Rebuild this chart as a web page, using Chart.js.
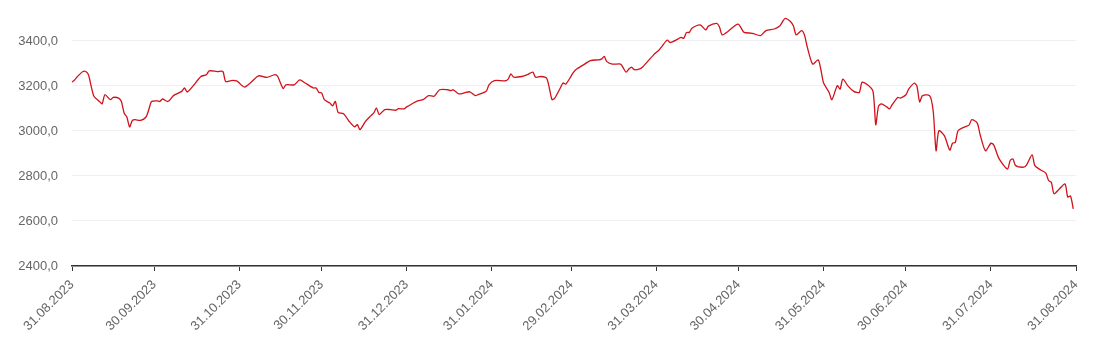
<!DOCTYPE html>
<html>
<head>
<meta charset="utf-8">
<script src="https://cdn.jsdelivr.net/npm/chart.js@4"></script>
<style>
  html, body { margin: 0; padding: 0; background: #fff; }
  #wrap { width: 1100px; height: 353px; }
</style>
</head>
<body>
<div id="wrap"><canvas id="myChart"></canvas></div>
<script>
// days since 31.08.2023
let days = [0,1,2,4,5,6,7,8,10,11,12,14,15,17,18,19,20,21,22,23,25,27,28,29,31,32,33,35,37,40,41,42,44,47,49,50,53,55,56,58,60,
  61,62,63,65,68,71,74,75,76,77,78,81,83,85,88,89,90,91,92,94,95,96,97,99,101,103,104,105,107,109,110,111,112,114,116,118,119,121,122,
  124,126,128,130,132,134,137,138,139,141,143,145,147,148,151,152,154,158,159,160,161,164,166,168,169,171,173,174,175,176,178,179,180,182,183,
  184,187,189,192,193,194,195,197,200,201,202,203,204,205,207,208,212,214,215,217,218,221,222,223,224,225,226,229,231,232,235,236,237,239,242,243,244,
  245,248,251,253,256,258,259,260,262,263,264,266,267,268,270,272,273,274,276,277,279,280,281,283,285,287,288,290,292,293,294,295,297,298,299,301,302,304,305,
  307,308,309,310,312,313,314,315,316,318,320,321,322,323,325,327,328,330,331,333,335,336,338,341,342,343,344,347,348,350,351,353,355,356,357,358,360,362,363,364,365]

let values = [3217,3227,3242,3264,3264,3250,3198,3154,3131,3121,3161,3139,3149,3146,3131,3080,3062,3018,3047,3050,3047,3062,3095,3131,3134,3131,3142,3131,3157,3176,3191,3173,3198,3242,3250,3267,3264,3264,3220,3224,3223,
  3213,3201,3195,3213,3245,3238,3250,3242,3213,3188,3205,3205,3227,3213,3191,3191,3171,3169,3139,3124,3112,3131,3083,3077,3043,3018,3028,3006,3043,3068,3080,3102,3073,3095,3095,3092,3099,3098,3107,
  3121,3134,3139,3157,3154,3183,3183,3179,3183,3165,3169,3174,3157,3161,3176,3205,3224,3223,3230,3254,3239,3242,3250,3261,3239,3242,3235,3191,3139,3146,3191,3213,3208,3245,3264,
  3275,3298,3313,3316,3319,3331,3308,3297,3297,3279,3261,3275,3284,3272,3276,3284,3338,3360,3375,3404,3393,3409,3416,3412,3437,3438,3456,3471,3449,3466,3478,3463,3427,3441,3471,3474,3456,
  3438,3434,3424,3446,3453,3466,3485,3500,3485,3466,3427,3446,3427,3375,3297,3316,3272,3213,3171,3139,3201,3186,3230,3198,3176,3171,3216,3205,3176,3028,3109,3120,3107,3098,3117,3149,3146,3161,3186,
  3212,3200,3129,3156,3160,3149,3082,2912,3001,2979,2915,2946,2949,3001,3016,3026,3050,3035,2986,2912,2946,2938,2876,2831,2869,2876,2846,2839,2849,2894,2846,2828,2813,2780,2772,2721,2743,2765,2706,2711,2654]

let tickDays = [0,30,61,91,122,153,182,213,243,274,304,335,366]
let tickLabels = ['31.08.2023','30.09.2023','31.10.2023','30.11.2023','31.12.2023','31.01.2024','29.02.2024',
  '31.03.2024','30.04.2024','31.05.2024','30.06.2024','31.07.2024','31.08.2024']

let yTicks = [2400,2600,2800,3000,3200,3400]

let points = days.map((d, i) => ({ x: d, y: values[i] }))

Chart.defaults.font.family = '"Liberation Sans", Arial, sans-serif'
Chart.defaults.font.size = 13

let ctx = document.getElementById('myChart').getContext('2d')

let myChart = new Chart(ctx, {
    type: 'line',
    data: {
        datasets: [{
            data: points,
            borderColor: '#d0121b',
            borderWidth: 1.3,
            pointRadius: 0,
            tension: 0.25,
            fill: false,
            clip: false
        }]
    },
    options: {
        responsive: true,
        maintainAspectRatio: false,
        animation: false,
        layout: { padding: { top: 5, right: 24, left: 0, bottom: 0 } },
        plugins: { legend: { display: false }, tooltip: { enabled: false } },
        scales: {
            x: {
                type: 'linear',
                min: 0,
                max: 366,
                afterBuildTicks: axis => { axis.ticks = tickDays.map(v => ({ value: v })) },
                afterFit: scale => { scale.height = 87 },
                ticks: {
                    color: '#666',
                    minRotation: 45,
                    maxRotation: 45,
                    padding: 6,
                    callback: (v) => tickLabels[tickDays.indexOf(v)]
                },
                grid: { drawOnChartArea: false, drawTicks: true, tickLength: 5, color: '#333' },
                border: { color: '#333', width: 1.5 }
            },
            y: {
                min: 2400,
                max: 3485,
                afterBuildTicks: axis => { axis.ticks = yTicks.map(v => ({ value: v })) },
                afterFit: scale => { scale.width = 72 },
                ticks: {
                    color: '#666',
                    padding: 14,
                    callback: v => v.toFixed(1).replace('.', ',')
                },
                grid: { color: '#f0f0f0', drawTicks: false },
                border: { display: false }
            }
        }
    }
})
</script>
</body>
</html>
